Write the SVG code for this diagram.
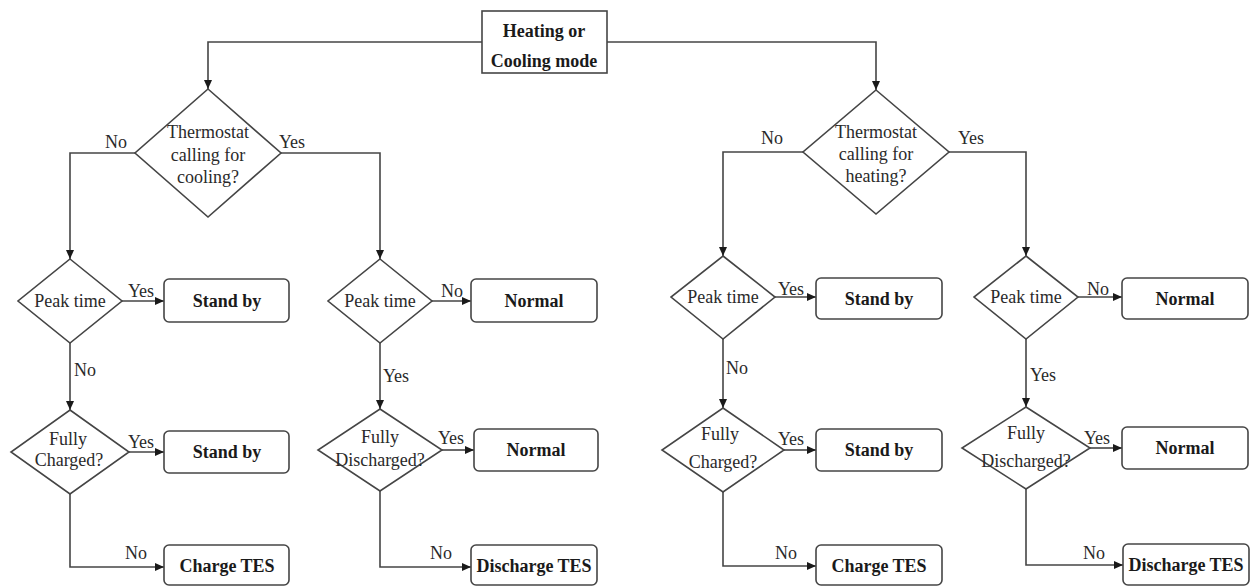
<svg xmlns="http://www.w3.org/2000/svg" width="1252" height="586" viewBox="0 0 1252 586" font-family="'Liberation Serif', serif">
<style>
.bg{fill:#ffffff}
.box{fill:#ffffff;stroke:#454545;stroke-width:1.6}
.dia{fill:#ffffff;stroke:#454545;stroke-width:1.6}
.ln{fill:none;stroke:#454545;stroke-width:1.6}
.t{font-family:'Liberation Serif', serif;font-size:18px;fill:#2a2a2a;text-anchor:middle}
.b{font-family:'Liberation Serif', serif;font-size:18px;font-weight:bold;fill:#1a1a1a;text-anchor:middle}
.l{font-family:'Liberation Serif', serif;font-size:18px;fill:#2a2a2a;text-anchor:middle}
</style>
<defs>
<marker id="arr" markerUnits="userSpaceOnUse" markerWidth="10" markerHeight="8" refX="9" refY="4" orient="auto">
<path d="M0,0 L9,4 L0,8 z" fill="#1a1a1a"/>
</marker>
</defs>
<rect class="bg" x="0" y="0" width="1252" height="586"/>

<g id="connectors">
<path class="ln" d="M482,42 H208 V89" marker-end="url(#arr)"/>
<path class="ln" d="M607,42 H876 V90" marker-end="url(#arr)"/>
<path class="ln" d="M135,153 H70 V259" marker-end="url(#arr)"/>
<path class="ln" d="M281,153 H380 V259" marker-end="url(#arr)"/>
<path class="ln" d="M122,301 H164" marker-end="url(#arr)"/>
<path class="ln" d="M70,343 V410" marker-end="url(#arr)"/>
<path class="ln" d="M129,452 H164" marker-end="url(#arr)"/>
<path class="ln" d="M70,494 V567 H164" marker-end="url(#arr)"/>
<path class="ln" d="M432,301 H471" marker-end="url(#arr)"/>
<path class="ln" d="M380,343 V409" marker-end="url(#arr)"/>
<path class="ln" d="M442,450 H474" marker-end="url(#arr)"/>
<path class="ln" d="M380,491 V567 H471" marker-end="url(#arr)"/>
<path class="ln" d="M803,152 H723 V256" marker-end="url(#arr)"/>
<path class="ln" d="M949,152 H1026 V256" marker-end="url(#arr)"/>
<path class="ln" d="M775,297 H816" marker-end="url(#arr)"/>
<path class="ln" d="M723,339 V408" marker-end="url(#arr)"/>
<path class="ln" d="M784,450 H816" marker-end="url(#arr)"/>
<path class="ln" d="M723,492 V566 H816" marker-end="url(#arr)"/>
<path class="ln" d="M1078,297 H1122" marker-end="url(#arr)"/>
<path class="ln" d="M1026,339 V407" marker-end="url(#arr)"/>
<path class="ln" d="M1090,448 H1122" marker-end="url(#arr)"/>
<path class="ln" d="M1026,489 V565 H1123" marker-end="url(#arr)"/>
<text class="l" x="116" y="148">No</text>
<text class="l" x="292" y="148">Yes</text>
<text class="l" x="772" y="144">No</text>
<text class="l" x="971" y="144">Yes</text>
<text class="l" x="141" y="297">Yes</text>
<text class="l" x="85" y="376">No</text>
<text class="l" x="141" y="448">Yes</text>
<text class="l" x="136" y="559">No</text>
<text class="l" x="452" y="297">No</text>
<text class="l" x="396" y="382">Yes</text>
<text class="l" x="451" y="444">Yes</text>
<text class="l" x="441" y="559">No</text>
<text class="l" x="791" y="295">Yes</text>
<text class="l" x="737" y="374">No</text>
<text class="l" x="791" y="445">Yes</text>
<text class="l" x="786" y="559">No</text>
<text class="l" x="1098" y="295">No</text>
<text class="l" x="1043" y="381">Yes</text>
<text class="l" x="1097" y="444">Yes</text>
<text class="l" x="1094" y="559">No</text>
</g>

<g id="mode">
<rect class="box" x="482" y="11" width="125" height="62"/>
<text class="b" x="544" y="37">Heating or</text>
<text class="b" x="544" y="67">Cooling mode</text>
</g>

<g id="thermo-cool">
<polygon class="dia" points="208,89 281,153 208,217 135,153"/>
<text class="t" x="208" y="138">Thermostat</text>
<text class="t" x="208" y="161">calling for</text>
<text class="t" x="208" y="183">cooling?</text>
</g>
<g id="thermo-heat">
<polygon class="dia" points="876,90 949,152 876,214 803,152"/>
<text class="t" x="876" y="138">Thermostat</text>
<text class="t" x="876" y="160">calling for</text>
<text class="t" x="876" y="182">heating?</text>
</g>

<g id="peak1">
<polygon class="dia" points="70,259 122,301 70,343 18,301"/>
<text class="t" x="70" y="307">Peak time</text>
</g>
<g id="standby1">
<rect class="box" x="164" y="279" width="125" height="43" rx="5"/>
<text class="b" x="227" y="307">Stand by</text>
</g>
<g id="charged1">
<polygon class="dia" points="70,410 129,452 70,494 11,452"/>
<text class="t" x="68" y="445">Fully</text>
<text class="t" x="69" y="466">Charged?</text>
</g>
<g id="standby2">
<rect class="box" x="164" y="431" width="125" height="42" rx="5"/>
<text class="b" x="227" y="458">Stand by</text>
</g>
<g id="chargetes1">
<rect class="box" x="164" y="545" width="125" height="40" rx="5"/>
<text class="b" x="227" y="572">Charge TES</text>
</g>

<g id="peak2">
<polygon class="dia" points="380,259 432,301 380,343 328,301"/>
<text class="t" x="380" y="307">Peak time</text>
</g>
<g id="normal1">
<rect class="box" x="471" y="279" width="126" height="43" rx="5"/>
<text class="b" x="534" y="307">Normal</text>
</g>
<g id="discharged1">
<polygon class="dia" points="380,409 442,450 380,491 318,450"/>
<text class="t" x="380" y="443">Fully</text>
<text class="t" x="380" y="466">Discharged?</text>
</g>
<g id="normal2">
<rect class="box" x="474" y="429" width="124" height="42" rx="5"/>
<text class="b" x="536" y="456">Normal</text>
</g>
<g id="dischargetes1">
<rect class="box" x="471" y="545" width="126" height="40" rx="5"/>
<text class="b" x="534" y="572">Discharge TES</text>
</g>

<g id="peak3">
<polygon class="dia" points="723,256 775,297 723,339 671,297"/>
<text class="t" x="723" y="303">Peak time</text>
</g>
<g id="standby3">
<rect class="box" x="816" y="278" width="126" height="41" rx="5"/>
<text class="b" x="879" y="305">Stand by</text>
</g>
<g id="charged2">
<polygon class="dia" points="723,408 784,450 723,492 662,450"/>
<text class="t" x="720" y="440">Fully</text>
<text class="t" x="723" y="468">Charged?</text>
</g>
<g id="standby4">
<rect class="box" x="816" y="429" width="126" height="42" rx="5"/>
<text class="b" x="879" y="456">Stand by</text>
</g>
<g id="chargetes2">
<rect class="box" x="816" y="545" width="126" height="40" rx="5"/>
<text class="b" x="879" y="572">Charge TES</text>
</g>

<g id="peak4">
<polygon class="dia" points="1026,256 1078,297 1026,339 974,297"/>
<text class="t" x="1026" y="303">Peak time</text>
</g>
<g id="normal3">
<rect class="box" x="1122" y="278" width="126" height="41" rx="5"/>
<text class="b" x="1185" y="305">Normal</text>
</g>
<g id="discharged2">
<polygon class="dia" points="1026,407 1090,448 1026,489 962,448"/>
<text class="t" x="1026" y="439">Fully</text>
<text class="t" x="1026" y="467">Discharged?</text>
</g>
<g id="normal4">
<rect class="box" x="1122" y="427" width="126" height="42" rx="5"/>
<text class="b" x="1185" y="454">Normal</text>
</g>
<g id="dischargetes2">
<rect class="box" x="1123" y="544" width="126" height="41" rx="5"/>
<text class="b" x="1186" y="571">Discharge TES</text>
</g>
</svg>
